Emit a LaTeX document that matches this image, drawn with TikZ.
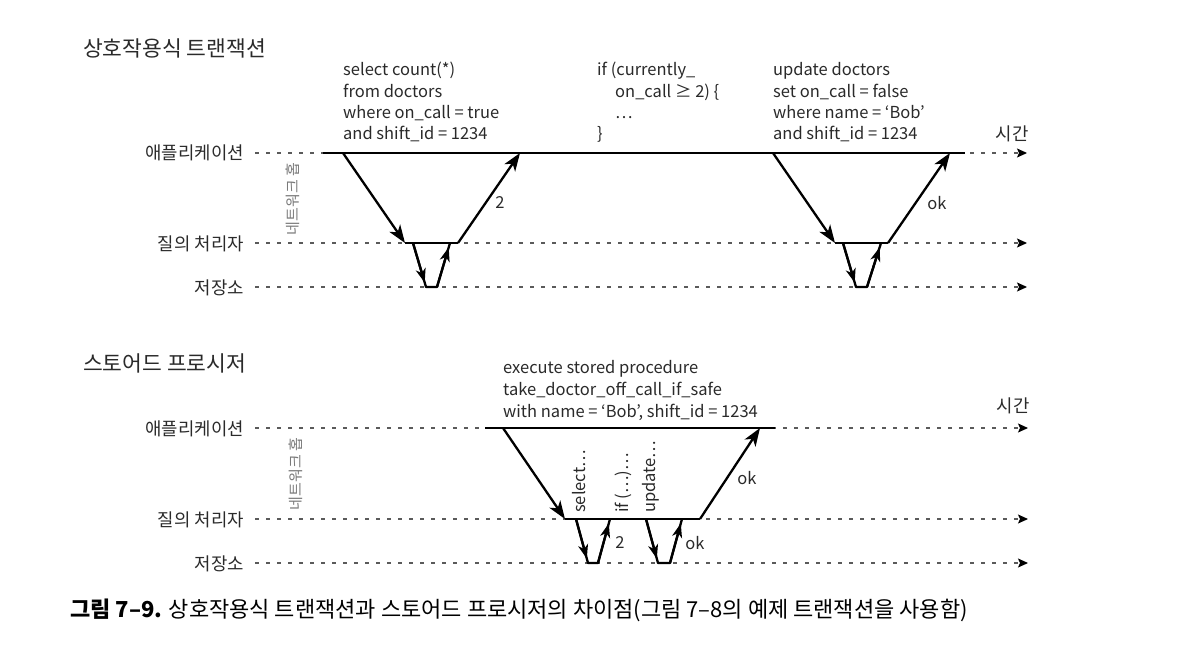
\documentclass[tikz,border=0pt]{standalone}
\usepackage{fontspec}
\setmainfont{Noto Sans CJK KR}
\usetikzlibrary{arrows.meta,calc}
\definecolor{lblc}{HTML}{2A2A2A}
\definecolor{dotc}{HTML}{5A5A5A}
\definecolor{hopc}{HTML}{7A7A7A}
\begin{document}
\begin{tikzpicture}[x=1pt,y=-1pt,
  lane/.style={draw=dotc, line width=1.2pt, dash pattern=on 4pt off 7pt,
    -{Stealth[length=10pt,width=9pt,inset=2pt,color=black]}},
  bar/.style={draw=black, line width=2.3pt, line join=round},
  big/.style={bar, -{Stealth[length=18pt,width=13pt,inset=5pt]}},
  small/.style={bar, -{Stealth[length=14pt,width=10pt,inset=4pt]}},
  lbl/.style={font=\fontsize{17.8}{21}\selectfont, text=lblc, inner sep=0pt, anchor=base east},
  ttl/.style={font=\fontsize{21.5}{25}\selectfont, text=lblc, inner sep=0pt, anchor=base west},
  code/.style={font=\fontsize{16.5}{21}\selectfont, text=lblc, inner sep=0pt, anchor=base west},
  tag/.style={font=\fontsize{16.5}{21}\selectfont, text=lblc, inner sep=0pt},
  timetag/.style={font=\fontsize{17.8}{21}\selectfont, text=lblc, inner sep=0pt},
  vcode/.style={font=\fontsize{16.5}{21}\selectfont, text=lblc, inner sep=0pt, rotate=90, anchor=base west},
  hop/.style={font=\fontsize{15}{17}\selectfont, text=hopc, inner sep=0pt, rotate=90},
  captxt/.style={font=\fontsize{22}{26}\selectfont, text=black, inner sep=0pt, anchor=base west}
]
\useasboundingbox (0,0) rectangle (1178,666);
\fill[white] (0,0) rectangle (1178,666);

% ---------------- top: interactive transaction ----------------
\node[ttl] (t1) at (83,57) {상호작용식 트랜잭션};
\node[lbl] (ta) at (244,160) {애플리케이션};
\node[lbl] (tq) at (244,250) {질의 처리자};
\node[lbl] (ts) at (244,294) {저장소};
\node[timetag] (ttime) at (1012,134) {시간};
\node[hop] (thop) at (293,199) {네트워크 홉};

\coordinate (taL) at (255,153); \coordinate (taR) at (1027,153);
\coordinate (tqL) at (255,243); \coordinate (tqR) at (1027,243);
\coordinate (tsL) at (255,287); \coordinate (tsR) at (1027,287);
\draw[lane] (taL) -- (taR);
\draw[lane] (tqL) -- (tqR);
\draw[lane] (tsL) -- (tsR);

\coordinate (tA0) at (323,153); \coordinate (tA9) at (965,153);
\draw[bar] (tA0) -- (tA9);

% first round trip
\coordinate (a1) at (343,153); \coordinate (q1) at (405,243);
\coordinate (q1e) at (458,243); \coordinate (r1) at (520,153);
\coordinate (q1a) at (413,243); \coordinate (s1a) at (426,287);
\coordinate (s1b) at (437,287); \coordinate (q1b) at (450,243);
\draw[big] (a1) -- (q1);
\draw[bar] (q1) -- (q1e);
\draw[big] (q1e) -- (r1);
\node[tag] (l2) at (500,203) {2};
\draw[bar] (q1a) -- (s1a) -- (s1b) -- (q1b);
\draw[small] (q1a) -- ($(q1a)!0.9!(s1a)$);
\draw[small] (s1b) -- ($(s1b)!0.9!(q1b)$);

% second round trip
\coordinate (a2) at (773,153); \coordinate (q2) at (835,243);
\coordinate (q2e) at (888,243); \coordinate (r2) at (950,153);
\coordinate (q2a) at (843,243); \coordinate (s2a) at (856,287);
\coordinate (s2b) at (867,287); \coordinate (q2b) at (881,243);
\draw[big] (a2) -- (q2);
\draw[bar] (q2) -- (q2e);
\draw[big] (q2e) -- (r2);
\node[tag] (lok1) at (937,203) {ok};
\draw[bar] (q2a) -- (s2a) -- (s2b) -- (q2b);
\draw[small] (q2a) -- ($(q2a)!0.9!(s2a)$);
\draw[small] (s2b) -- ($(s2b)!0.9!(q2b)$);

% code texts
\node[code] (c11) at (343,76) {select count(*)};
\node[code] (c12) at (343,97.3) {from doctors};
\node[code] (c13) at (343,118.6) {where on\_call = true};
\node[code] (c14) at (343,140) {and shift\_id = 1234};

\node[code] (c21) at (597,76) {if (currently\_};
\node[code] (c22) at (615,97.3) {on\_call ≥ 2) \{};
\node[code] (c23) at (615,118.6) {…};
\node[code] (c24) at (597,140) {\}};

\node[code] (c31) at (773,76) {update doctors};
\node[code] (c32) at (773,97.3) {set on\_call = false};
\node[code] (c33) at (773,118.6) {where name = ‘Bob’};
\node[code] (c34) at (773,140) {and shift\_id = 1234};

% ---------------- bottom: stored procedure ----------------
\node[ttl] (t2) at (83,371) {스토어드 프로시저};
\node[lbl] (ba) at (244,435) {애플리케이션};
\node[lbl] (bq) at (244,526) {질의 처리자};
\node[lbl] (bs) at (244,570) {저장소};
\node[timetag] (btime) at (1013,406) {시간};
\node[hop] (bhop) at (296,474) {네트워크 홉};

\coordinate (baL) at (255,428); \coordinate (baR) at (1028,428);
\coordinate (bqL) at (255,519); \coordinate (bqR) at (1028,519);
\coordinate (bsL) at (255,563); \coordinate (bsR) at (1028,563);
\draw[lane] (baL) -- (baR);
\draw[lane] (bqL) -- (bqR);
\draw[lane] (bsL) -- (bsR);

\coordinate (bA0) at (485,428); \coordinate (bA9) at (775,428);
\draw[bar] (bA0) -- (bA9);

\coordinate (a3) at (503,428); \coordinate (q3) at (565,519);
\coordinate (q3e) at (700,519); \coordinate (r3) at (760,428);
\draw[big] (a3) -- (q3);
\draw[bar] (q3) -- (q3e);
\draw[big] (q3e) -- (r3);
\node[tag] (lok2) at (747,478) {ok};

\coordinate (q4a) at (576,519); \coordinate (s4a) at (588,563);
\coordinate (s4b) at (598,563); \coordinate (q4b) at (610,519);
\draw[bar] (q4a) -- (s4a) -- (s4b) -- (q4b);
\draw[small] (q4a) -- ($(q4a)!0.9!(s4a)$);
\draw[small] (s4b) -- ($(s4b)!0.9!(q4b)$);
\node[tag] (l22) at (620,543) {2};

\coordinate (q5a) at (646,519); \coordinate (s5a) at (658,563);
\coordinate (s5b) at (670,563); \coordinate (q5b) at (682,519);
\draw[bar] (q5a) -- (s5a) -- (s5b) -- (q5b);
\draw[small] (q5a) -- ($(q5a)!0.9!(s5a)$);
\draw[small] (s5b) -- ($(s5b)!0.9!(q5b)$);
\node[tag] (lok3) at (695,543) {ok};

\node[vcode] (v1) at (585,513) {select…};
\node[vcode] (v2) at (628,513) {if (…)…};
\node[vcode] (v3) at (655,513) {update…};

\node[code] (c41) at (503,373) {execute stored procedure};
\node[code] (c42) at (503,395) {take\_doctor\_off\_call\_if\_safe};
\node[code] (c43) at (503,417) {with name = ‘Bob’, shift\_id = 1234};

% caption
\node[captxt] (capt) at (70,617) {\textbf{그림 7–9.} 상호작용식 트랜잭션과 스토어드 프로시저의 차이점(그림 7–8의 예제 트랜잭션을 사용함)};
\end{tikzpicture}
\end{document}
